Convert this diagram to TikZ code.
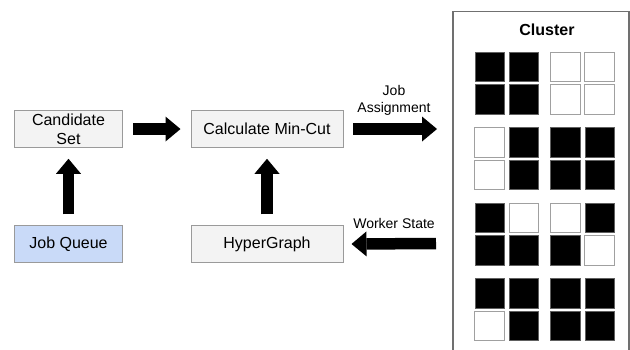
\documentclass[tikz,border=0pt]{standalone}
\usepackage{fontspec}
\setmainfont{Liberation Sans}
\usetikzlibrary{arrows.meta}
\definecolor{boxfill}{HTML}{F3F3F3}
\definecolor{boxline}{HTML}{9A9A9A}
\definecolor{queuefill}{HTML}{C9DAF8}
\definecolor{clusterline}{HTML}{707070}
\definecolor{sqline}{HTML}{A0A0A0}
\tikzset{
  procbox/.style={draw=boxline, line width=1bp, fill=boxfill, inner sep=0pt,
    minimum height=36.5bp, align=center, font=\fontsize{16bp}{19bp}\selectfont},
  queuebox/.style={procbox, fill=queuefill},
  blockarrow/.style={line width=11.5bp, black,
    -{Triangle[length=15bp,width=25bp,line width=0pt]}},
  lbl/.style={inner sep=0pt, align=center, font=\fontsize{14bp}{17.6bp}\selectfont},
  blk/.style={draw=sqline!60!black, line width=0.8bp, fill=black, minimum size=29.5bp, inner sep=0pt},
  wht/.style={draw=sqline, line width=1bp, fill=white, minimum size=29.5bp, inner sep=0pt},
}
\begin{document}
\begin{tikzpicture}[x=1bp,y=-1bp]
\useasboundingbox (0,0) rectangle (630,349);
\fill[white] (0,0) rectangle (630,349);

% boxes
\node[procbox, minimum width=107bp] (cand) at (68.5,129) {Candidate\\Set};
\node[procbox, minimum width=152bp] (calc) at (267,129) {Calculate Min-Cut};
\node[queuebox, minimum width=107bp, minimum height=37.5bp] (jq) at (68.5,244) {Job Queue};
\node[procbox, minimum width=152bp, minimum height=37.5bp] (hg) at (267,244) {HyperGraph};

% cluster
\draw[clusterline, line width=1.6bp] (453,352) -- (453,11.5) -- (629,11.5) -- (629,352);
\node[inner sep=0pt, font=\fontsize{16bp}{19bp}\selectfont\bfseries] (cluster) at (547,30) {Cluster};

\foreach \x/\y/\s [count=\n] in {
  489.7/67/blk, 523.9/67/blk, 565.3/67/wht, 599.7/67/wht,
  489.7/99.5/blk, 523.9/99.5/blk, 565.3/99.5/wht, 599.7/99.5/wht,
  489.7/142.5/wht, 523.9/142.5/blk, 565.3/142.5/blk, 599.7/142.5/blk,
  489.7/175/wht, 523.9/175/blk, 565.3/175/blk, 599.7/175/blk,
  489.7/218/blk, 523.9/218/wht, 565.3/218/wht, 599.7/218/blk,
  489.7/250.5/blk, 523.9/250.5/blk, 565.3/250.5/blk, 599.7/250.5/wht,
  489.7/293.5/blk, 523.9/293.5/blk, 565.3/293.5/blk, 599.7/293.5/blk,
  489.7/326/wht, 523.9/326/blk, 565.3/326/blk, 599.7/326/blk}
  {\node[\s] (sq\n) at (\x,\y) {};}

% free ends
\coordinate (jaend) at (437,129);
\coordinate (wsstart) at (436,243.5);

% arrows
\draw[blockarrow] ([xshift=10.5bp]cand.east) -- ([xshift=-10bp]calc.west);
\draw[blockarrow] ([yshift=10.5bp]jq.north) -- ([yshift=-11bp]cand.south);
\draw[blockarrow] ([yshift=10.5bp]hg.north) -- ([yshift=-11bp]calc.south);
\draw[blockarrow] ([xshift=9.5bp]calc.east) -- (jaend);
\draw[blockarrow] (wsstart) -- ([xshift=8bp]hg.east);

% labels
\node[lbl] (jalabel) at (394,100.5) {Job\\Assignment};
\node[lbl] (wslabel) at (394,223) {Worker State};
\end{tikzpicture}
\end{document}
